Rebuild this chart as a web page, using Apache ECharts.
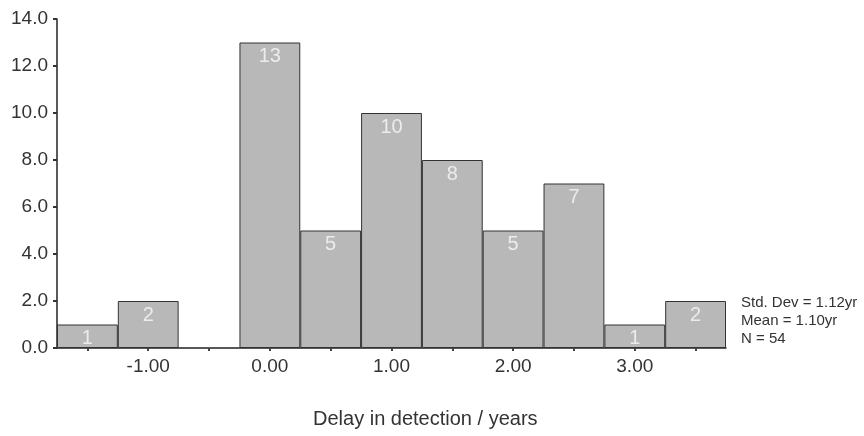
<!DOCTYPE html>
<html>
<head>
<meta charset="utf-8">
<script src="https://cdn.jsdelivr.net/npm/echarts@6/dist/echarts.min.js"></script>
<style>
  html, body { margin: 0; padding: 0; background: #fff; }
  #chart { width: 864px; height: 436px; }
</style>
</head>
<body>
<div id="chart"></div>
<script>
// bin centres (years), width 0.5
var binCentres = ['-1.50', '-1.00', '-0.50', '0.00', '0.50', '1.00', '1.50', '2.00', '2.50', '3.00', '3.50'];
var counts = [1, 2, 0, 13, 5, 10, 8, 5, 7, 1, 2];
var xTickLabels = ['-1.00', '0.00', '1.00', '2.00', '3.00'];
var statLines = ['Std. Dev = 1.12yr', 'Mean = 1.10yr', 'N = 54'];

var font = '"Liberation Sans", Arial, sans-serif';

var chart = echarts.init(document.getElementById('chart'));

var option = {
    backgroundColor: '#fff',
    animation: false,
    grid: {
        left: 57,
        right: 138,
        top: 19,
        bottom: 88
    },
    xAxis: {
        type: 'category',
        data: binCentres,
        axisLine: { lineStyle: { color: '#222', width: 1.5 } },
        axisTick: {
            show: true,
            alignWithLabel: true,
            interval: 0,
            length: 3,
            lineStyle: { color: '#444', width: 2 }
        },
        axisLabel: {
            interval: 0,
            margin: 9,
            fontFamily: font,
            fontSize: 19,
            color: '#333',
            formatter: function (v) {
                return xTickLabels.indexOf(v) >= 0 ? v : '';
            }
        }
    },
    yAxis: {
        type: 'value',
        min: 0,
        max: 14,
        interval: 2,
        splitLine: { show: false },
        axisLine: { show: true, lineStyle: { color: '#222', width: 1.5 } },
        axisTick: { show: true, length: 4, lineStyle: { color: '#333', width: 2 } },
        axisLabel: {
            margin: 9,
            fontFamily: font,
            fontSize: 19,
            color: '#333',
            formatter: function (v) { return v.toFixed(1); }
        }
    },
    series: [{
        type: 'bar',
        data: counts.map(function (c) { return c === 0 ? null : c; }),
        barCategoryGap: 0,
        itemStyle: {
            color: '#b8b8b8',
            borderColor: '#333',
            borderWidth: 1
        },
        label: {
            show: true,
            position: 'insideTop',
            distance: 4,
            fontFamily: font,
            fontSize: 20,
            color: '#ececec'
        }
    }],
    graphic: [
        {
            type: 'text',
            left: 741,
            top: 294,
            style: {
                text: statLines.join('\n'),
                font: '15px ' + font,
                lineHeight: 18,
                fill: '#333'
            }
        },
        {
            type: 'text',
            left: 313,
            top: 409,
            style: {
                text: 'Delay in detection / years',
                font: '20px ' + font,
                fill: '#333'
            }
        }
    ]
};

chart.setOption(option);
</script>
</body>
</html>
